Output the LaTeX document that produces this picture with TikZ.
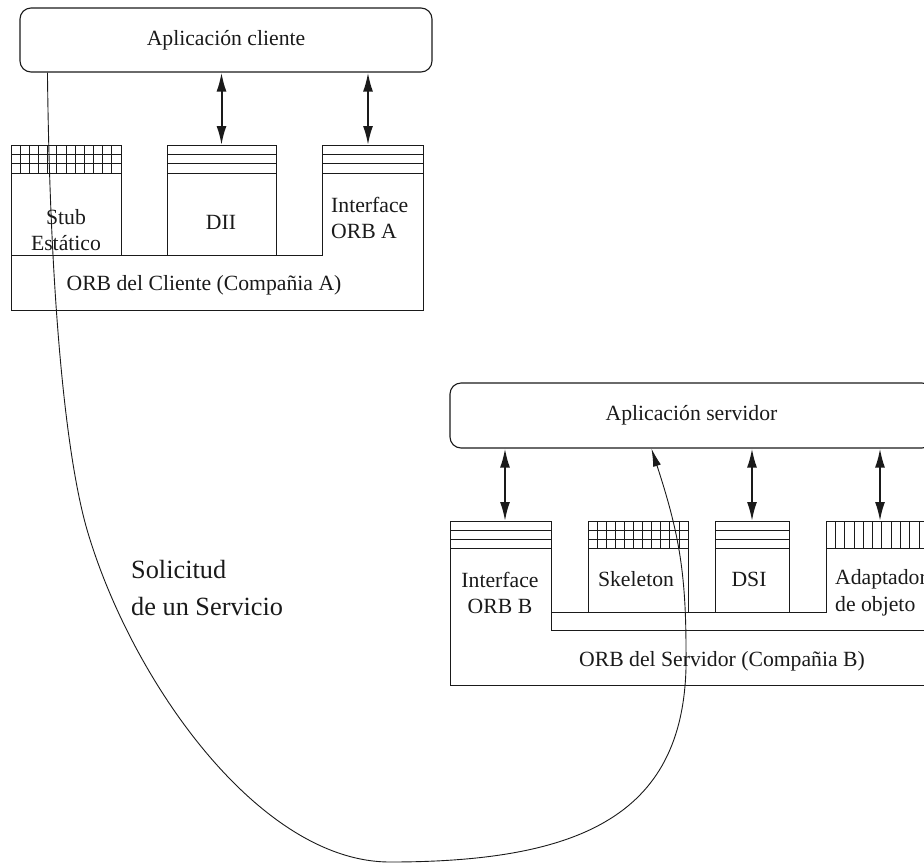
\documentclass[tikz,border=0pt]{standalone}
\usepackage{fontspec}
\setmainfont{Liberation Serif}
\usetikzlibrary{arrows.meta,calc}
\definecolor{ink}{HTML}{1A1A1A}
\tikzset{io/.style={{Latex[length=19pt,width=10pt]}-{Latex[length=19pt,width=10pt]},line width=2pt,ink},
frame/.style={draw=ink,line width=1pt},
band/.style={ink,line width=.8pt},
req/.style={-{Latex[length=18pt,width=8pt]},line width=.9pt,ink},
lab/.style={font=\fontsize{21.7}{26.5}\selectfont,text=ink,align=center,inner sep=0pt},
app/.style={draw=ink,line width=1.1pt,rounded corners=11pt,lab}}

\begin{document}
\begin{tikzpicture}[x=1pt,y=-1pt]
\useasboundingbox (0,0) rectangle (924,863);
\clip (0,0) rectangle (924,863);
\node[app,minimum width=412pt,minimum height=64pt] (cliapp) at (226,40) {Aplicación cliente};
\draw[frame] (11,145) -- (11,310) -- (423,310) -- (423,145) -- (322,145) -- (322,255) -- (11,255);
\draw[frame] (11,145) rectangle (121,255);
\draw[frame] (167,255) -- (167,145) -- (276,145) -- (276,255);
\foreach \a/\b in {11/121,167/276,322/423}
  \foreach \y in {154.3,163.7,173} \draw[band] (\a,\y) -- (\b,\y);
\foreach \k in {1,...,11} \draw[band] ({11+\k*110/12},145) -- ++(0,28);
\coordinate (dii) at (221.5,145);
\coordinate (ifa) at (368,145);
\draw[io] (cliapp.south -| dii) -- (dii);
\draw[io] (cliapp.south -| ifa) -- (ifa);
\node[lab] (stub) at (66,230) {Stub\\Estático};
\node[lab] (diil) at (221,222) {DII};
\node[lab,align=left,anchor=west] (ifal) at (331,218) {Interface\\ORB A};
\node[lab] (orba) at (204,285) {ORB del Cliente (Compañia A)};

\node[app,minimum width=483pt,minimum height=65pt] (srvapp) at (691.5,415.5) {Aplicación servidor};
\draw[frame] (450,521) -- (450,685) -- (940,685);
\draw[frame] (450,521) -- (551,521) -- (551,630) -- (940,630);
\draw[frame] (551,612) -- (826,612) -- (826,521) -- (940,521);
\draw[frame] (588,612) -- (588,521) -- (688,521) -- (688,612);
\draw[frame] (715,612) -- (715,521) -- (789,521) -- (789,612);
\foreach \a/\b in {450/551,588/688,715/789}
  \foreach \y in {530,539.3,548.5} \draw[band] (\a,\y) -- (\b,\y);
\draw[band] (826,548.5) -- (940,548.5);
\foreach \k in {1,...,10} \draw[band] ({588+\k*100/11},521) -- ++(0,27.5);
\foreach \k in {1,...,11} \draw[band] ({826+\k*9.3},521) -- ++(0,27.5);
\coordinate (ifb) at (505,521);
\coordinate (dsi) at (752,521);
\coordinate (poa) at (880,521);
\draw[io] (srvapp.south -| ifb) -- (ifb);
\draw[io] (srvapp.south -| dsi) -- (dsi);
\draw[io] (srvapp.south -| poa) -- (poa);
\node[lab] (ifbl) at (500,593) {Interface\\ORB B};
\node[lab] (skel) at (636,579) {Skeleton};
\node[lab] (dsil) at (749,579) {DSI};
\node[lab,align=left,anchor=west] (poal) at (835,593) {Adaptador\\de objeto};
\node[lab] (orbb) at (722,661) {ORB del Servidor (Compañia B)};

\node[lab,font=\fontsize{26.3}{37}\selectfont,align=left,anchor=west] (sol) at (131,588) {Solicitud\\de un Servicio};
\path (cliapp.south west) ++(28,0) coordinate (src);
\path (srvapp.south west) ++(202,0) coordinate (dst);
\draw[req] (src) .. controls (50,300) and (66,460) .. (88,533)
  .. controls (133,683) and (260,862) .. (390,862)
  .. controls (590,862) and (690,810) .. (686,650)
  .. controls (686,570) and (678,530) .. (dst);
\end{tikzpicture}
\end{document}
